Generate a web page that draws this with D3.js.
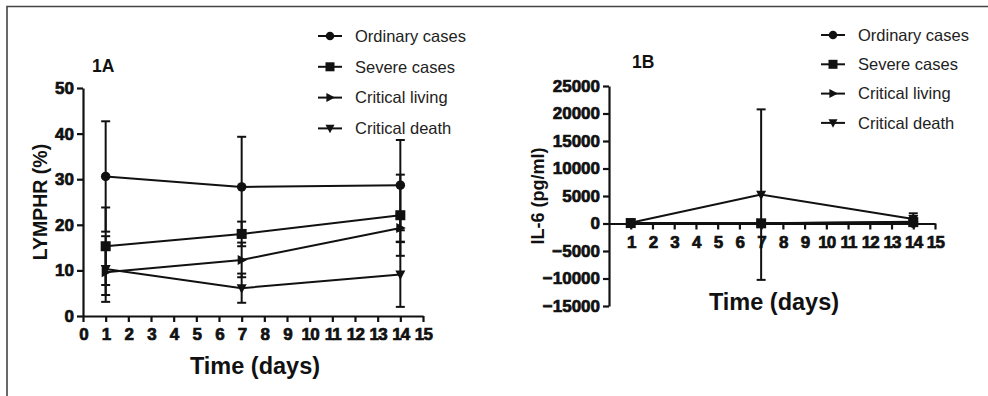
<!DOCTYPE html>
<html>
<head>
<meta charset="utf-8">
<script src="https://cdn.jsdelivr.net/npm/d3@7"></script>
<style>
  body { margin: 0; background: #fff; }
  svg { display: block; }
  .domain, .tick line { stroke: #111; stroke-width: 2.2; }
</style>
</head>
<body>
<div id="chart"></div>
<script>
const FONT = '"Liberation Sans", Arial, sans-serif';
const days = [1, 7, 14];
const seriesNames = ['Ordinary cases', 'Severe cases', 'Critical living', 'Critical death'];
const markerTypes = ['circle', 'square', 'right', 'down'];

// panel 1A: LYMPHR (%) mean and SD
const lymphMean = [
  [30.6, 28.3, 28.7],
  [15.3, 18.0, 22.1],
  [9.6, 12.3, 19.3],
  [10.3, 6.1, 9.1]
];
const lymphSd = [
  [12.1, 11.0, 9.9],
  [8.5, 2.7, 8.9],
  [5.0, 3.8, 3.0],
  [7.2, 3.2, 7.1]
];

// panel 1B: IL-6 (pg/ml) mean and SD
const il6Mean = [
  [40, 20, 60],
  [80, 30, 250],
  [60, 40, 300],
  [120, 5250, 800]
];
const il6Sd = [
  [30, 20, 60],
  [60, 40, 200],
  [50, 40, 300],
  [80, 15500, 1050]
];

const xTicks = d3.range(0, 16);
const lymphTicks = [0, 10, 20, 30, 40, 50];
const il6Ticks = [-15000, -10000, -5000, 0, 5000, 10000, 15000, 20000, 25000];

const svg = d3.select('#chart').append('svg')
  .attr('width', 988).attr('height', 396)
  .style('font-family', FONT);

// outer frame (top and left edges)
svg.append('path')
  .attr('d', 'M7,396 L7,6.5 L988,6.5')
  .attr('fill', 'none').attr('stroke', '#444').attr('stroke-width', 1.6);

function marker(g, type, size) {
  const s = size;
  if (type === 'circle') {
    g.append('circle').attr('r', s * 0.95).attr('fill', '#111');
  } else if (type === 'square') {
    g.append('rect').attr('x', -s).attr('y', -s).attr('width', 2 * s).attr('height', 2 * s).attr('fill', '#111');
  } else if (type === 'right') {
    g.append('path').attr('d', `M${-s * 0.8},${-s} L${s * 1.1},0 L${-s * 0.8},${s} Z`).attr('fill', '#111');
  } else {
    g.append('path').attr('d', `M${-s},${-s * 0.8} L${s},${-s * 0.8} L0,${s * 1.1} Z`).attr('fill', '#111');
  }
}

function styleTicks(a) {
  a.attr('font-family', FONT).attr('font-size', 17);
  a.selectAll('.tick text')
    .style('font-weight', 'bold').attr('fill', '#111')
    .attr('stroke', '#111').attr('stroke-width', 0.7);
}

function panel(opt) {
  const x = d3.scaleLinear().domain([0, 15]).range(opt.xRange);
  const y = d3.scaleLinear().domain(opt.yDomain).range(opt.yRange);
  const g = svg.append('g');

  // y axis
  g.append('g')
    .attr('transform', `translate(${opt.xRange[0]},0)`)
    .call(d3.axisLeft(y).tickValues(opt.yTicks).tickFormat(d3.format('d')).tickSize(6).tickPadding(3).tickSizeOuter(0))
    .call(styleTicks);

  // x axis
  g.append('g')
    .attr('transform', `translate(0,${y(opt.xAt)})`)
    .call(d3.axisBottom(x).tickValues(opt.showZero ? xTicks : xTicks.slice(1)).tickSize(6).tickPadding(6).tickSizeOuter(0))
    .call(styleTicks)
    .call(a => a.selectAll('.tick text').attr('letter-spacing', '-0.8'));

  // lines, error bars, markers
  const line = d3.line().x((d, i) => x(days[i])).y(d => y(d));
  opt.mean.forEach((vals, si) => {
    const sd = opt.sd[si];
    const s = g.append('g');
    vals.forEach((v, i) => {
      const cx = x(days[i]);
      const lo = y(v - sd[i]), hi = y(v + sd[i]);
      s.append('line').attr('x1', cx).attr('x2', cx).attr('y1', lo).attr('y2', hi)
        .attr('stroke', '#111').attr('stroke-width', 2);
      [lo, hi].forEach(yy => s.append('line').attr('x1', cx - 4.5).attr('x2', cx + 4.5)
        .attr('y1', yy).attr('y2', yy).attr('stroke', '#111').attr('stroke-width', 2));
    });
    s.append('path').datum(vals).attr('d', line)
      .attr('fill', 'none').attr('stroke', '#111').attr('stroke-width', 2);
    vals.forEach((v, i) => {
      marker(s.append('g').attr('transform', `translate(${x(days[i])},${y(v)})`), markerTypes[si], 5);
    });
  });

  // titles
  g.append('text').attr('x', opt.tag[0]).attr('y', opt.tag[1])
    .attr('font-size', 17.5).attr('font-weight', 'bold').attr('fill', '#111').text(opt.tagText);
  g.append('text').attr('x', opt.xTitle[0]).attr('y', opt.xTitle[1])
    .attr('text-anchor', 'middle').attr('font-size', 23.5).attr('font-weight', 'bold').attr('fill', '#111')
    .text('Time (days)');
  g.append('text')
    .attr('transform', `translate(${opt.yTitle[0]},${opt.yTitle[1]}) rotate(-90)`)
    .attr('text-anchor', 'middle').attr('font-size', opt.yTitleSize).attr('font-weight', 'bold').attr('fill', '#111')
    .text(opt.yTitleText);

  // legend
  seriesNames.forEach((name, i) => {
    const ly = opt.legend[1] + i * opt.legendStep;
    const lg = g.append('g').attr('transform', `translate(${opt.legend[0]},${ly})`);
    lg.append('line').attr('x1', -12).attr('x2', 12).attr('stroke', '#111').attr('stroke-width', 2);
    marker(lg.append('g'), markerTypes[i], 4.5);
    lg.append('text').attr('x', 25).attr('dy', '0.35em').attr('font-size', 16.5).attr('fill', '#222').text(name);
  });
}

panel({
  xRange: [83, 423], yDomain: [0, 50], yRange: [316, 88], yTicks: lymphTicks, xAt: 0, showZero: true,
  mean: lymphMean, sd: lymphSd,
  tag: [92, 72], tagText: '1A', xTitle: [255, 374], yTitle: [47, 202], yTitleText: 'LYMPHR (%)', yTitleSize: 19.5,
  legend: [330, 36], legendStep: 30.8
});

panel({
  xRange: [609, 935], yDomain: [-15000, 25000], yRange: [306, 86], yTicks: il6Ticks, xAt: 0, showZero: false,
  mean: il6Mean, sd: il6Sd,
  tag: [632, 68], tagText: '1B', xTitle: [774, 310], yTitle: [544, 196], yTitleText: 'IL-6 (pg/ml)', yTitleSize: 18,
  legend: [833, 35], legendStep: 29.3
});
</script>
</body>
</html>
